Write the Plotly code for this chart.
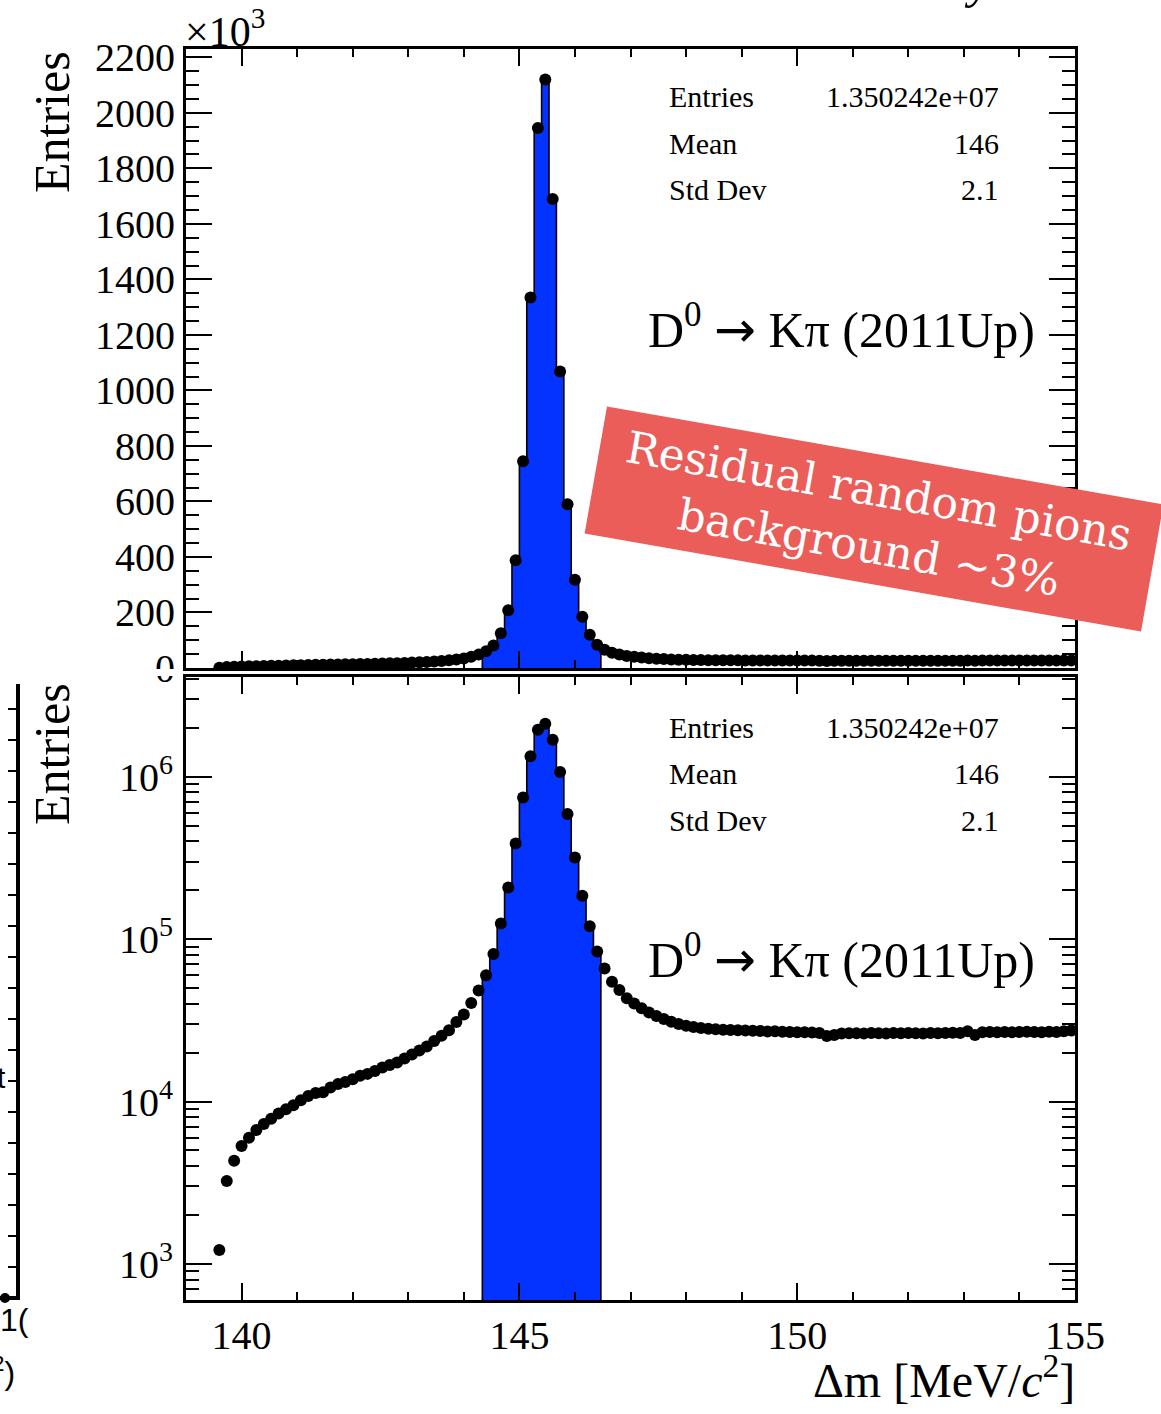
import numpy as np
import plotly.graph_objects as go

# ---------------- data ----------------
bin_lo, bin_hi, n_bins = 139.0, 155.0, 120
first_filled_bin = 4          # bins 0..3 are empty (below pion threshold)
sig_first_bin, sig_last_bin = 40, 55   # blue (signal window) bins

counts_left = [1220, 3240, 4320, 5320, 5980, 6670, 7270, 7840, 8450, 8950,
               9500, 10200, 10800, 11300, 11400, 12200, 12800, 13200, 13700, 14400,
               14800, 15400, 16200, 16800, 17400, 18400, 19500, 20600, 21800, 23600,
               25400, 27500, 30900, 34300, 40400, 48200]
counts_peak = [60000, 81000, 125000, 208000, 388000, 745000, 1335000, 1945000, 2120000,
               1690000, 1068000, 590000, 318000, 185000, 120000, 84000, 66000]
counts_right = [54700, 48600, 43200, 40200, 37500, 35300, 33600, 32200, 31000, 30000,
                29300, 28800, 28400, 28100, 27900, 27700, 27600, 27500, 27400, 27300,
                27200, 27000, 27100, 26900, 26800, 26700, 26700, 26600, 26400, 25300,
                25700, 26200, 26300, 26300, 26200, 26400, 26300, 26200, 26400, 26300,
                26400, 26300, 26200, 26400, 26300, 26400, 26500, 26400, 27100, 25700,
                26700, 26800, 26700, 26800, 26700, 26800, 26900, 26800, 26700, 26900,
                26800, 27100, 27400]

stats_labels = ["Entries", "Mean", "Std Dev"]
stats_values = ["1.350242e+07", "146", "2.1"]
channel_label = ("D<sup>0</sup> <span style=\"font-family:DejaVu Sans\">\u2192</span>"
                 " K\u03c0 (2011Up)")
lin_tick_vals = list(range(0, 2201, 200))
log_tick_vals = [1e3, 1e4, 1e5, 1e6]
log_tick_text = ["10<sup>3</sup>", "10<sup>4</sup>", "10<sup>5</sup>", "10<sup>6</sup>"]
x_tick_vals = [140, 145, 150, 155]

# ---------------- derived ----------------
counts = np.array(counts_left + counts_peak + counts_right, dtype=float)
edges = np.linspace(bin_lo, bin_hi, n_bins + 1)
centers = 0.5 * (edges[:-1] + edges[1:])[first_filled_bin:]
assert len(centers) == len(counts)

W, H = 1161, 1414
def px(x): return x / W
def py(y): return 1 - y / H

FONT = "Liberation Serif"
BLUE = "#0433ff"

LIN_MAX = 2230
LOG_RANGE = [2.778, 6.614]

fig = go.Figure()

def add_panel(xref, yref, scale, baseline):
    sig_idx = np.arange(sig_first_bin, sig_last_bin + 1)
    xs, ys = [edges[sig_first_bin]], [baseline]
    for b in sig_idx:
        v = counts[b - first_filled_bin] / scale
        xs += [edges[b], edges[b + 1]]
        ys += [v, v]
    xs.append(edges[sig_last_bin + 1]); ys.append(baseline)
    fig.add_trace(go.Scatter(x=xs + [xs[0]], y=ys + [ys[0]], mode="lines", fill="toself",
                             fillcolor=BLUE, line=dict(width=0), xaxis=xref, yaxis=yref,
                             hoverinfo="skip", showlegend=False))
    fig.add_trace(go.Scatter(x=xs, y=ys, mode="lines", line=dict(color="black", width=1.6),
                             xaxis=xref, yaxis=yref, hoverinfo="skip", showlegend=False))
    fig.add_trace(go.Scatter(x=centers, y=counts / scale, mode="markers",
                             marker=dict(color="black", size=12), xaxis=xref, yaxis=yref,
                             showlegend=False, cliponaxis=True))

add_panel("x", "y", 1000.0, 0.0)
add_panel("x2", "y2", 1.0, 10 ** (LOG_RANGE[0] - 1))

dom_x = [px(186), px(1075)]
axis_common = dict(showline=True, linewidth=3, linecolor="black", mirror="allticks",
                   ticks="inside", tickcolor="black", showgrid=False, zeroline=False,
                   automargin=False,
                   tickfont=dict(family=FONT, size=40, color="black"))

fig.update_layout(
    template="none",
    width=W, height=H, margin=dict(l=0, r=0, t=0, b=0, pad=0), autosize=False,
    paper_bgcolor="white", plot_bgcolor="white", showlegend=False,
    xaxis=dict(domain=dom_x, range=[bin_lo, bin_hi], anchor="y", showticklabels=False,
               tickmode="array", tickvals=x_tick_vals, ticklen=17, tickwidth=2,
               minor=dict(ticks="inside", dtick=1, tick0=140, ticklen=8, tickwidth=2, tickcolor="black"),
               **axis_common),
    yaxis=dict(domain=[py(668), py(49)], range=[0, LIN_MAX], anchor="x",
               tickmode="array", tickvals=lin_tick_vals, ticktext=[str(v) for v in lin_tick_vals],
               ticklen=26, tickwidth=2, ticklabelstandoff=0,
               minor=dict(ticks="inside", dtick=50, tick0=0, ticklen=13, tickwidth=2, tickcolor="black"),
               **axis_common),
    xaxis2=dict(domain=dom_x, range=[bin_lo, bin_hi], anchor="y2", showticklabels=True,
                tickmode="array", tickvals=x_tick_vals, ticktext=[str(v) for v in x_tick_vals],
                ticklen=17, tickwidth=2, ticklabelstandoff=-2,
                minor=dict(ticks="inside", dtick=1, tick0=140, ticklen=8, tickwidth=2, tickcolor="black"),
                **axis_common),
    yaxis2=dict(domain=[py(1300), py(677)], type="log", range=LOG_RANGE, anchor="x2",
                tickmode="array", tickvals=log_tick_vals, ticktext=log_tick_text,
                ticklen=26, tickwidth=2, ticklabelstandoff=2,
                minor=dict(ticks="inside", tickmode="array",
                           tickvals=[m * 10 ** e for e in range(2, 7) for m in range(2, 10)],
                           ticklen=13, tickwidth=2, tickcolor="black"),
                **axis_common),
)

ann = []
def text(x, y, s, size, xanchor="center", yanchor="middle", color="black", family=FONT, angle=0, **kw):
    ann.append(dict(x=px(x), y=py(y), xref="paper", yref="paper", text=s, showarrow=False,
                    xanchor=xanchor, yanchor=yanchor, textangle=angle,
                    font=dict(family=family, size=size, color=color), **kw))

for top in (0, 630):
    for i, (lab, val) in enumerate(zip(stats_labels, stats_values)):
        yy = 97 + top + i * 46.5
        text(667, yy, lab, 30, xanchor="left")
        text(1001, yy, val, 30, xanchor="right")
    text(1037, 327 + top, channel_label, 50, xanchor="right")

text(52, 122, "Entries", 50, angle=-90)
text(52, 754, "Entries", 50, angle=-90)
text(1077, 1377, "\u0394m [MeV/<i>c</i><sup>2</sup>]", 48, xanchor="right")
text(183, 28, "\u00d710<sup>3</sup>", 42, xanchor="left")

# red highlight box
ann.append(dict(x=px(874), y=py(519), xref="paper", yref="paper", showarrow=False,
                text="Residual random pions<br>background ~3%", textangle=10,
                xanchor="center", yanchor="middle", bgcolor="#ea5d58",
                width=562, height=126, align="center",
                font=dict(family="DejaVu Serif", size=44, color="white")))

# italic glyph fragment at top
text(978, -20, "<i>y</i>", 50, family=FONT)

# fragments of a neighbouring chart at the left edge
text(14, 1320, "1(", 32, family="Liberation Sans")
text(17, 1371, "<sup>2</sup>)", 32, xanchor="right", family="Liberation Sans")
text(8, 1077, "t", 30, xanchor="right", family="Liberation Sans")

fig.update_layout(annotations=ann)

shapes = []
def line(x0, y0, x1, y1, w=3):
    shapes.append(dict(type="line", xref="paper", yref="paper", x0=px(x0), y0=py(y0),
                       x1=px(x1), y1=py(y1), line=dict(color="black", width=w), layer="above"))
# hide lower half of the clipped "0" label
shapes.append(dict(type="rect", xref="paper", yref="paper", x0=px(22), x1=px(183),
                   y0=py(676), y1=py(669), fillcolor="white", line=dict(width=0), layer="above"))
line(18, 684, 18, 1300, 4)
line(0, 1298, 20, 1298, 4)
for k in range(19):
    yy = 709 + k * 31
    if yy > 1290:
        break
    line(18, yy, 8, yy, 2)
shapes.append(dict(type="circle", xref="paper", yref="paper", x0=px(0), x1=px(10),
                   y0=py(1303), y1=py(1293), fillcolor="black", line=dict(width=0), layer="above"))
fig.update_layout(shapes=shapes)

fig.write_html("out.html")
